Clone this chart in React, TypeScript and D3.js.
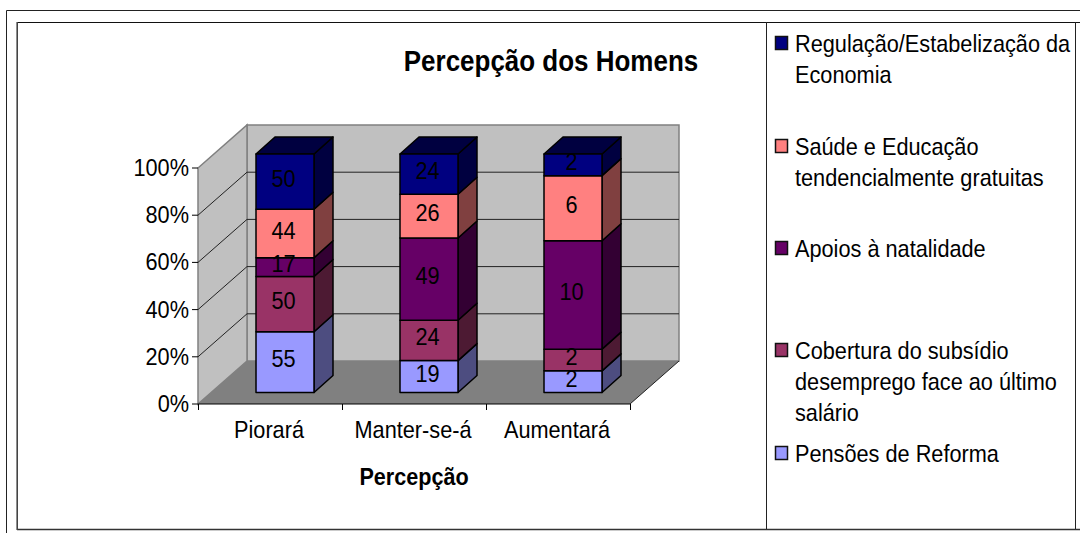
import React from "react";
import * as d3 from "d3";

const categories = ["Piorará", "Manter-se-á", "Aumentará"];
const seriesNames = [
  "Pensões de Reforma",
  "Cobertura do subsídio desemprego face ao último salário",
  "Apoios à natalidade",
  "Saúde e Educação tendencialmente gratuitas",
  "Regulação/Estabelização da Economia",
];
const pensoes = [55, 19, 2];
const cobertura = [50, 24, 2];
const apoios = [17, 49, 10];
const saude = [44, 26, 6];
const regulacao = [50, 24, 2];
const seriesValues = [pensoes, cobertura, apoios, saude, regulacao];
const frontColors = ["#9999FF", "#993366", "#660066", "#FF8080", "#000080"];
const sideColors = ["#4D4D80", "#4D1A33", "#330033", "#804040", "#000040"];
const topColor = "#000040";
const tickValues = [0, 0.2, 0.4, 0.6, 0.8, 1];
const legendEntries = [
  { c: 4, y: 43, lines: ["Regulação/Estabelização da", "Economia"] },
  { c: 3, y: 146, lines: ["Saúde e Educação", "tendencialmente gratuitas"] },
  { c: 2, y: 248, lines: ["Apoios à natalidade"] },
  { c: 1, y: 350, lines: ["Cobertura do subsídio", "desemprego face ao último", "salário"] },
  { c: 0, y: 453, lines: ["Pensões de Reforma"] },
];

const FONT = "'Liberation Sans', Arial, sans-serif";
const X0 = 198, X1 = 630, Y0 = 404, Y1 = 168;
const DX = 49, DY = -43;
const BAR_W = 58, BAR_DX = 19, BAR_DY = -17;
const BAR_BOTTOM = 392.5, BAR_TOP = 154;
const SX = 0.905;

function Txt(props: { x: number; y: number; size?: number; bold?: boolean; anchor?: string; sx?: number; children: React.ReactNode }) {
  const { x, y, size = 24, bold, anchor = "start", sx = SX, children } = props;
  return (
    <text transform={`translate(${x},${y}) scale(${sx},1)`} textAnchor={anchor} fontSize={size} fontWeight={bold ? "bold" : "normal"} fill="#000">
      {children}
    </text>
  );
}

export default function App() {
  const x = d3.scaleBand<string>().domain(categories).range([X0, X1]);
  const y = d3.scaleLinear().domain([0, 1]).range([Y0, Y1]);
  const yBar = d3.scaleLinear().domain([0, 1]).range([BAR_BOTTOM, BAR_TOP]);
  const rows = categories.map((c, i) => {
    const r: Record<string, number> = {};
    seriesValues.forEach((s, k) => (r[String(k)] = s[i]));
    return r;
  });
  const stacked = d3
    .stack<Record<string, number>>()
    .keys(seriesValues.map((_, k) => String(k)))
    .offset(d3.stackOffsetExpand)(rows);
  const poly = (p: number[][]) => p.map((q) => q.join(",")).join(" ");
  const bw = x.bandwidth();
  const barX = (c: string) => (x(c) as number) + (bw - BAR_W) / 2 + 15;
  const edges = [...categories.map((c) => x(c) as number), X1];

  return (
    <svg
      width={1080}
      height={533}
      style={{ position: "absolute", left: 0, top: 0, background: "#fff", fontFamily: FONT }}
    >
      {/* frames */}
      <g fill="none" stroke="#222">
        <path d="M6.5,533V10.5H1080" strokeWidth={1} />
        <path d="M17,22.5H1080" strokeWidth={1.2} stroke="#111" />
        <path d="M17,529.5H1080" strokeWidth={1.6} stroke="#333" />
        <path d="M17.2,22V530" strokeWidth={1.6} stroke="#444" />
        <path d="M766.5,22V529" strokeWidth={1} />
        <path d="M1075.5,22V529" strokeWidth={1} />
      </g>

      <Txt x={551} y={71} size={29} bold anchor="middle" sx={0.896}>
        Percepção dos Homens
      </Txt>

      {/* walls and floor */}
      <polygon points={poly([[X0 + DX, Y1 + DY], [X1 + DX, Y1 + DY], [X1 + DX, Y0 + DY], [X0 + DX, Y0 + DY]])} fill="#C0C0C0" stroke="#808080" strokeWidth={1.5} />
      <polygon points={poly([[X0, Y1], [X0 + DX, Y1 + DY], [X0 + DX, Y0 + DY], [X0, Y0]])} fill="#C0C0C0" stroke="#808080" strokeWidth={1.5} />
      <polygon points={poly([[X0, Y0], [X1, Y0], [X1 + DX, Y0 + DY], [X0 + DX, Y0 + DY]])} fill="#808080" />

      {/* gridlines */}
      {tickValues.slice(1).map((t) => (
        <g key={t} stroke="#222" strokeWidth={1} fill="none">
          {t < 1 && <line x1={X0} y1={y(t)} x2={X0 + DX} y2={y(t) + DY} />}
          {t <= 0.8 && <line x1={X0 + DX} y1={y(t) + DY} x2={X1 + DX} y2={y(t) + DY} />}
        </g>
      ))}

      {/* axes */}
      <line x1={X0} x2={X1} y1={Y0} y2={Y0} stroke="#000" strokeWidth={1.2} />
      <line x1={X1} x2={X1 + DX} y1={Y0} y2={Y0 + DY} stroke="#222" />
      {tickValues.map((t) => (
        <g key={t}>
          <line x1={X0 - 6} x2={X0} y1={y(t)} y2={y(t)} stroke="#000" />
          <Txt x={189} y={y(t) + 8} anchor="end">
            {d3.format(".0%")(t)}
          </Txt>
        </g>
      ))}
      {edges.map((e) => (
        <line key={e} x1={e + 0.5} x2={e + 0.5} y1={Y0} y2={Y0 + 6} stroke="#000" />
      ))}
      {categories.map((c) => (
        <Txt key={c} x={(x(c) as number) + bw / 2 - 1} y={438} anchor="middle">
          {c}
        </Txt>
      ))}
      <Txt x={414} y={485} size={24} bold anchor="middle" sx={0.9}>
        Percepção
      </Txt>

      {/* bars */}
      {stacked.map((layer, k) =>
        layer.map((d, i) => {
          const c = categories[i];
          const bx = barX(c);
          const a = yBar(d[0]);
          const b = yBar(d[1]);
          return (
            <g key={`${k}-${i}`} stroke="#000" strokeWidth={1.5} strokeLinejoin="round">
              <polygon points={poly([[bx + BAR_W, a], [bx + BAR_W + BAR_DX, a + BAR_DY], [bx + BAR_W + BAR_DX, b + BAR_DY], [bx + BAR_W, b]])} fill={sideColors[k]} />
              {k === stacked.length - 1 && (
                <polygon points={poly([[bx, b], [bx + BAR_DX, b + BAR_DY], [bx + BAR_W + BAR_DX, b + BAR_DY], [bx + BAR_W, b]])} fill={topColor} />
              )}
              <rect x={bx} y={b} width={BAR_W} height={a - b} fill={frontColors[k]} />
            </g>
          );
        })
      )}
      {stacked.map((layer, k) =>
        layer.map((d, i) => (
          <Txt key={`${k}-${i}`} x={barX(categories[i]) + BAR_W / 2 - 1.5} y={(yBar(d[0]) + yBar(d[1])) / 2 + 5} anchor="middle">
            {seriesValues[k][i]}
          </Txt>
        ))
      )}

      {/* legend */}
      {legendEntries.map((e) => (
        <g key={e.c}>
          <title>{seriesNames[e.c]}</title>
          <rect x={775.5} y={e.y - 6.5} width={12} height={13} fill={frontColors[e.c]} stroke="#111" strokeWidth={1.5} />
          {e.lines.map((l, j) => (
            <Txt key={l} x={795} y={e.y + 9 + j * 31}>
              {l}
            </Txt>
          ))}
        </g>
      ))}
    </svg>
  );
}
